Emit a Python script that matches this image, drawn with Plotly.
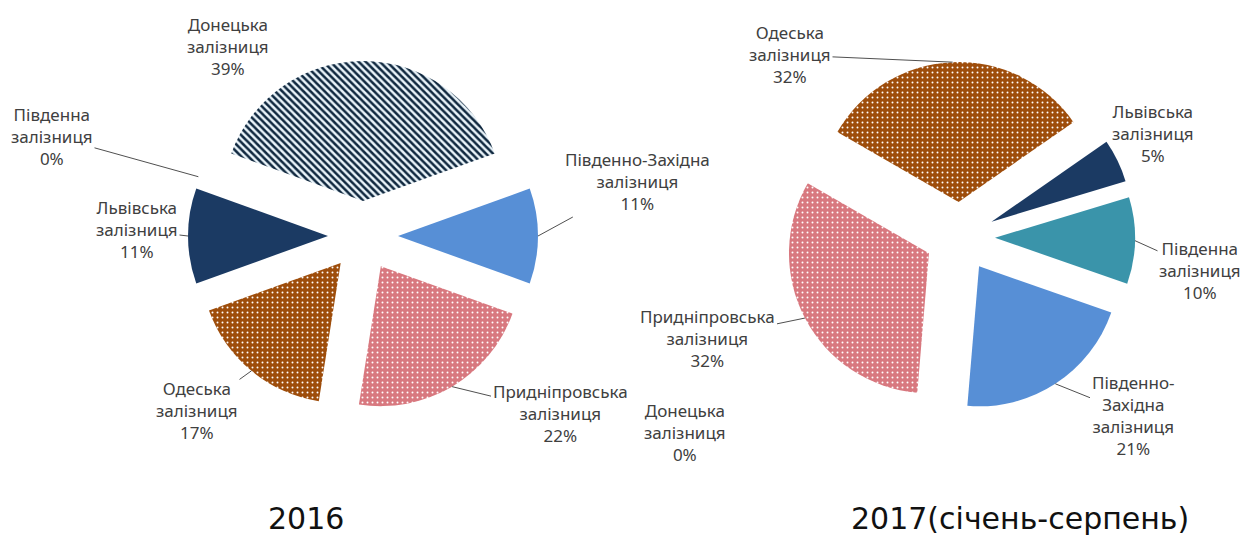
import math
import plotly.graph_objects as go

# ---------------- data ----------------
names_2016 = ["Донецька залізниця", "Південно-Західна залізниця", "Придніпровська залізниця",
              "Одеська залізниця", "Львівська залізниця", "Південна залізниця"]
values_2016 = [39, 11, 22, 17, 11, 0]

names_2017 = ["Одеська залізниця", "Львівська залізниця", "Південна залізниця",
              "Південно-Західна залізниця", "Донецька залізниця", "Придніпровська залізниця"]
values_2017 = [32, 5, 10, 21, 0, 32]

titles = ["2016", "2017(січень-серпень)"]

# label line breaks (text content)
label_lines_2016 = ["Донецька<br>залізниця", "Південно-Західна<br>залізниця", "Придніпровська<br>залізниця",
                    "Одеська<br>залізниця", "Львівська<br>залізниця", "Південна<br>залізниця"]
label_lines_2017 = ["Одеська<br>залізниця", "Львівська<br>залізниця", "Південна<br>залізниця",
                    "Південно-<br>Західна<br>залізниця", "Донецька<br>залізниця", "Придніпровська<br>залізниця"]

# ---------------- styles ----------------
W, H = 1248, 539
R = 140
PULL = 0.25
TEXT_COLOR = "#404040"
FONT = "Noto Sans"

style = {
    "Донецька залізниця": dict(color="#EAF4FA", shape="\\", fg="#10283F", bg="#EAF4FA", size=5, sol=0.5),
    "Південно-Західна залізниця": dict(color="#578FD6", shape="", fg="#578FD6", bg="#578FD6", size=6, sol=0.2),
    "Придніпровська залізниця": dict(color="#D8787F", shape=".", fg="#FFFFFF", bg="#D8787F", size=5, sol=0.12),
    "Одеська залізниця": dict(color="#9E4D0B", shape=".", fg="#FFFFFF", bg="#9E4D0B", size=5, sol=0.12),
    "Львівська залізниця": dict(color="#1B3A63", shape="", fg="#1B3A63", bg="#1B3A63", size=6, sol=0.2),
    "Південна залізниця": dict(color="#3A94AA", shape="", fg="#3A94AA", bg="#3A94AA", size=6, sol=0.2),
}

charts = [
    dict(names=names_2016, values=values_2016, lines=label_lines_2016, center=(363, 236),
         rotation=-values_2016[0] / sum(values_2016) * 180,
         label_pos=[(228, 46), (637, 182), (560, 413), (197, 410), (137, 230), (52, 136)],
         arrows=[False, True, True, True, True, True],
         title_pos=(306, 518)),
    dict(names=names_2017, values=values_2017, lines=label_lines_2017, center=(960, 237),
         rotation=-60,
         label_pos=[(790, 55), (1153, 133), (1200, 270), (1133, 415), (685, 432), (708, 338)],
         arrows=[True, True, True, True, False, True],
         title_pos=(1020, 518)),
]

fig = go.Figure()
annotations = []
D = 2 * R * (1 + PULL)

for ci, ch in enumerate(charts):
    cx, cy = ch["center"]
    st = [style[n] for n in ch["names"]]
    fig.add_trace(go.Pie(
        labels=ch["names"], values=ch["values"], sort=False, direction="clockwise",
        rotation=ch["rotation"], pull=[PULL] * len(ch["values"]),
        textinfo="none", hoverinfo="label+percent", showlegend=False,
        marker=dict(
            colors=[s["color"] for s in st],
            line=dict(width=0),
            pattern=dict(
                shape=[s["shape"] for s in st],
                fgcolor=[s["fg"] for s in st],
                bgcolor=[s["bg"] for s in st],
                size=[s["size"] for s in st],
                solidity=[s["sol"] for s in st],
            ),
        ),
        domain=dict(x=[(cx - D / 2) / W, (cx + D / 2) / W],
                    y=[(H - cy - D / 2) / H, (H - cy + D / 2) / H]),
    ))

    total = sum(ch["values"])
    start = ch["rotation"]
    cum = 0
    for i, v in enumerate(ch["values"]):
        mid = math.radians(start + (cum + v / 2) / total * 360)
        cum += v
        px = cx + R * (1 + PULL) * math.sin(mid)
        py = cy - R * (1 + PULL) * math.cos(mid)
        lx, ly = ch["label_pos"][i]
        text = f"{ch['lines'][i]}<br>{v / total * 100:.0f}%"
        if ch["arrows"][i]:
            annotations.append(dict(
                x=px / W, y=(H - py) / H, xref="paper", yref="paper",
                ax=lx - px, ay=ly - py, text=text, showarrow=True,
                arrowhead=0, arrowwidth=1, arrowcolor="#505050", standoff=0,
                font=dict(family=FONT, size=17, color=TEXT_COLOR), align="center",
            ))
        else:
            annotations.append(dict(
                x=lx / W, y=(H - ly) / H, xref="paper", yref="paper",
                text=text, showarrow=False, xanchor="center", yanchor="middle",
                font=dict(family=FONT, size=17, color=TEXT_COLOR), align="center",
            ))

    tx, ty = ch["title_pos"]
    annotations.append(dict(
        x=tx / W, y=(H - ty) / H, xref="paper", yref="paper", text=titles[ci],
        showarrow=False, xanchor="center", yanchor="middle",
        font=dict(family="DejaVu Sans", size=30, color="#111111"),
    ))

fig.update_layout(
    width=W, height=H, margin=dict(l=0, r=0, t=0, b=0),
    paper_bgcolor="white", plot_bgcolor="white",
    annotations=annotations,
)

fig.write_html("out.html", config={"displayModeBar": False},
               post_script=["document.body.style.margin='0px';"])
